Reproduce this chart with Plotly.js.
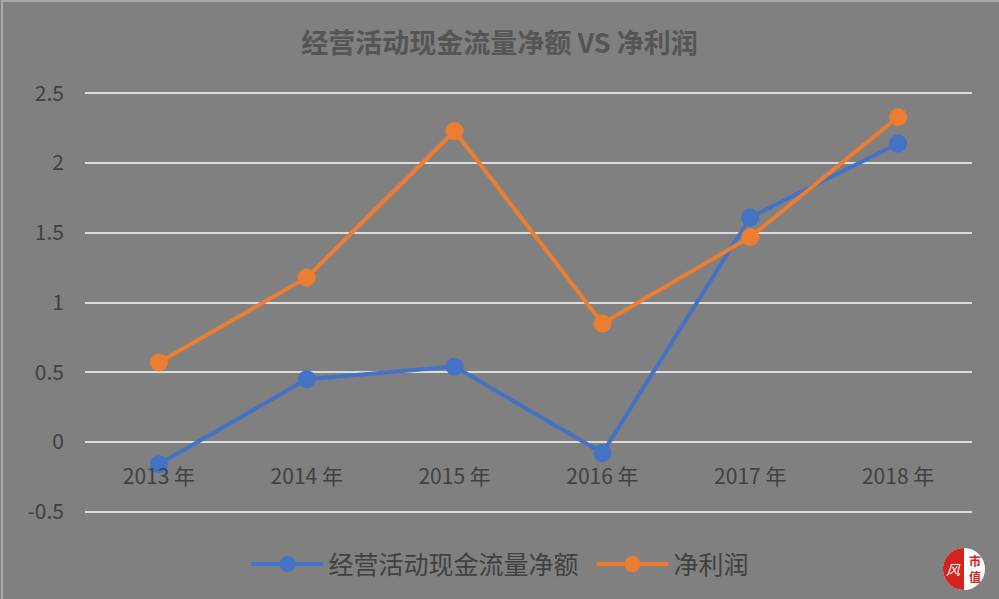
<!DOCTYPE html>
<html>
<head>
<meta charset="utf-8">
<script src="https://cdn.plot.ly/plotly-3.0.1.min.js"></script>
<style>
html,body{margin:0;padding:0;background:#808080;}
#wrap{position:relative;width:999px;height:599px;}
#chart{width:999px;height:599px;}
#frame{position:absolute;left:1px;top:0;width:998px;height:599px;border-top:2px solid #a8a8a8;border-left:2px solid #a8a8a8;box-sizing:border-box;pointer-events:none;}
</style>
</head>
<body>
<div id="wrap"><div id="chart"></div><div id="frame"></div></div>
<script>
const years = ["2013 年", "2014 年", "2015 年", "2016 年", "2017 年", "2018 年"];
const cashFlow = [-0.16, 0.45, 0.54, -0.08, 1.61, 2.14];
const netProfit = [0.57, 1.18, 2.23, 0.85, 1.47, 2.33];
const yTickVals = [-0.5, 0, 0.5, 1, 1.5, 2, 2.5];
const yTickText = ["-0.5", "0", "0.5", "1", "1.5", "2", "2.5"];
const seriesNames = ["经营活动现金流量净额", "净利润"];

const cjk = '"Noto Sans CJK SC", sans-serif';
const txtColor = '#404040';

const traces = [
  {
    x: years, y: cashFlow, name: seriesNames[0], type: 'scatter', mode: 'lines+markers',
    line: {color: '#4472C4', width: 4},
    marker: {color: '#4472C4', size: 18}
  },
  {
    x: years, y: netProfit, name: seriesNames[1], type: 'scatter', mode: 'lines+markers',
    line: {color: '#ED7D31', width: 4},
    marker: {color: '#ED7D31', size: 18}
  }
];

// logo (decoration) in paper coordinates
const lx = 0.991, ly = -0.133, rx = 21/887, ry = 21/421;
let half = 'M' + lx + ',' + (ly + ry);
for (let i = 1; i <= 24; i++) {
  const a = Math.PI/2 + Math.PI * i / 24;
  half += ' L' + (lx + rx*Math.cos(a)) + ',' + (ly + ry*Math.sin(a));
}
half += ' Z';

const layout = {
  width: 999, height: 599,
  paper_bgcolor: '#808080', plot_bgcolor: '#808080',
  margin: {l: 85, r: 27, t: 92, b: 86},
  title: {
    text: '<b>经营活动现金流量净额 VS 净利润</b>',
    font: {family: cjk, size: 27, color: '#555555'},
    x: 0.5, xanchor: 'center', y: 0.928, yanchor: 'middle'
  },
  xaxis: {
    type: 'category', range: [-0.5, 5.5],
    showgrid: false, zeroline: false, showline: false,
    anchor: 'free', position: 0.51/3.02,
    ticks: '', ticklabelstandoff: 20,
    tickfont: {family: cjk, size: 21, color: txtColor}
  },
  yaxis: {
    range: [-0.51, 2.51], tickvals: yTickVals, ticktext: yTickText,
    showgrid: true, gridcolor: '#DCDCDC', gridwidth: 2,
    zeroline: false, showline: false, ticks: '', ticklabelstandoff: 20,
    tickfont: {family: cjk, size: 21, color: txtColor}
  },
  showlegend: true,
  legend: {
    orientation: 'h', x: 0.182, xanchor: 'left', y: -0.122, yanchor: 'middle',
    font: {family: cjk, size: 25, color: txtColor},
    bgcolor: 'rgba(0,0,0,0)', traceorder: 'normal',
    itemwidth: 72, entrywidth: 258, entrywidthmode: 'pixels'
  },
  shapes: [
    {type: 'circle', xref: 'paper', yref: 'paper', x0: lx - rx, x1: lx + rx, y0: ly - ry, y1: ly + ry,
     fillcolor: '#FFFFFF', line: {width: 0}},
    {type: 'path', xref: 'paper', yref: 'paper', path: half, fillcolor: '#D2231E', line: {width: 0}}
  ],
  annotations: [
    {text: '<i>风</i>', xref: 'paper', yref: 'paper', x: lx - rx*0.5, y: ly, xanchor: 'center', yanchor: 'middle', showarrow: false,
     font: {family: cjk, size: 14, color: '#FFFFFF'}},
    {text: '<b>市<br>值</b>', xref: 'paper', yref: 'paper', x: lx + rx*0.52, y: ly, xanchor: 'center', yanchor: 'middle', showarrow: false,
     font: {family: cjk, size: 12, color: '#D2231E'}}
  ]
};

Plotly.newPlot('chart', traces, layout, {staticPlot: true, displayModeBar: false});
</script>
</body>
</html>
